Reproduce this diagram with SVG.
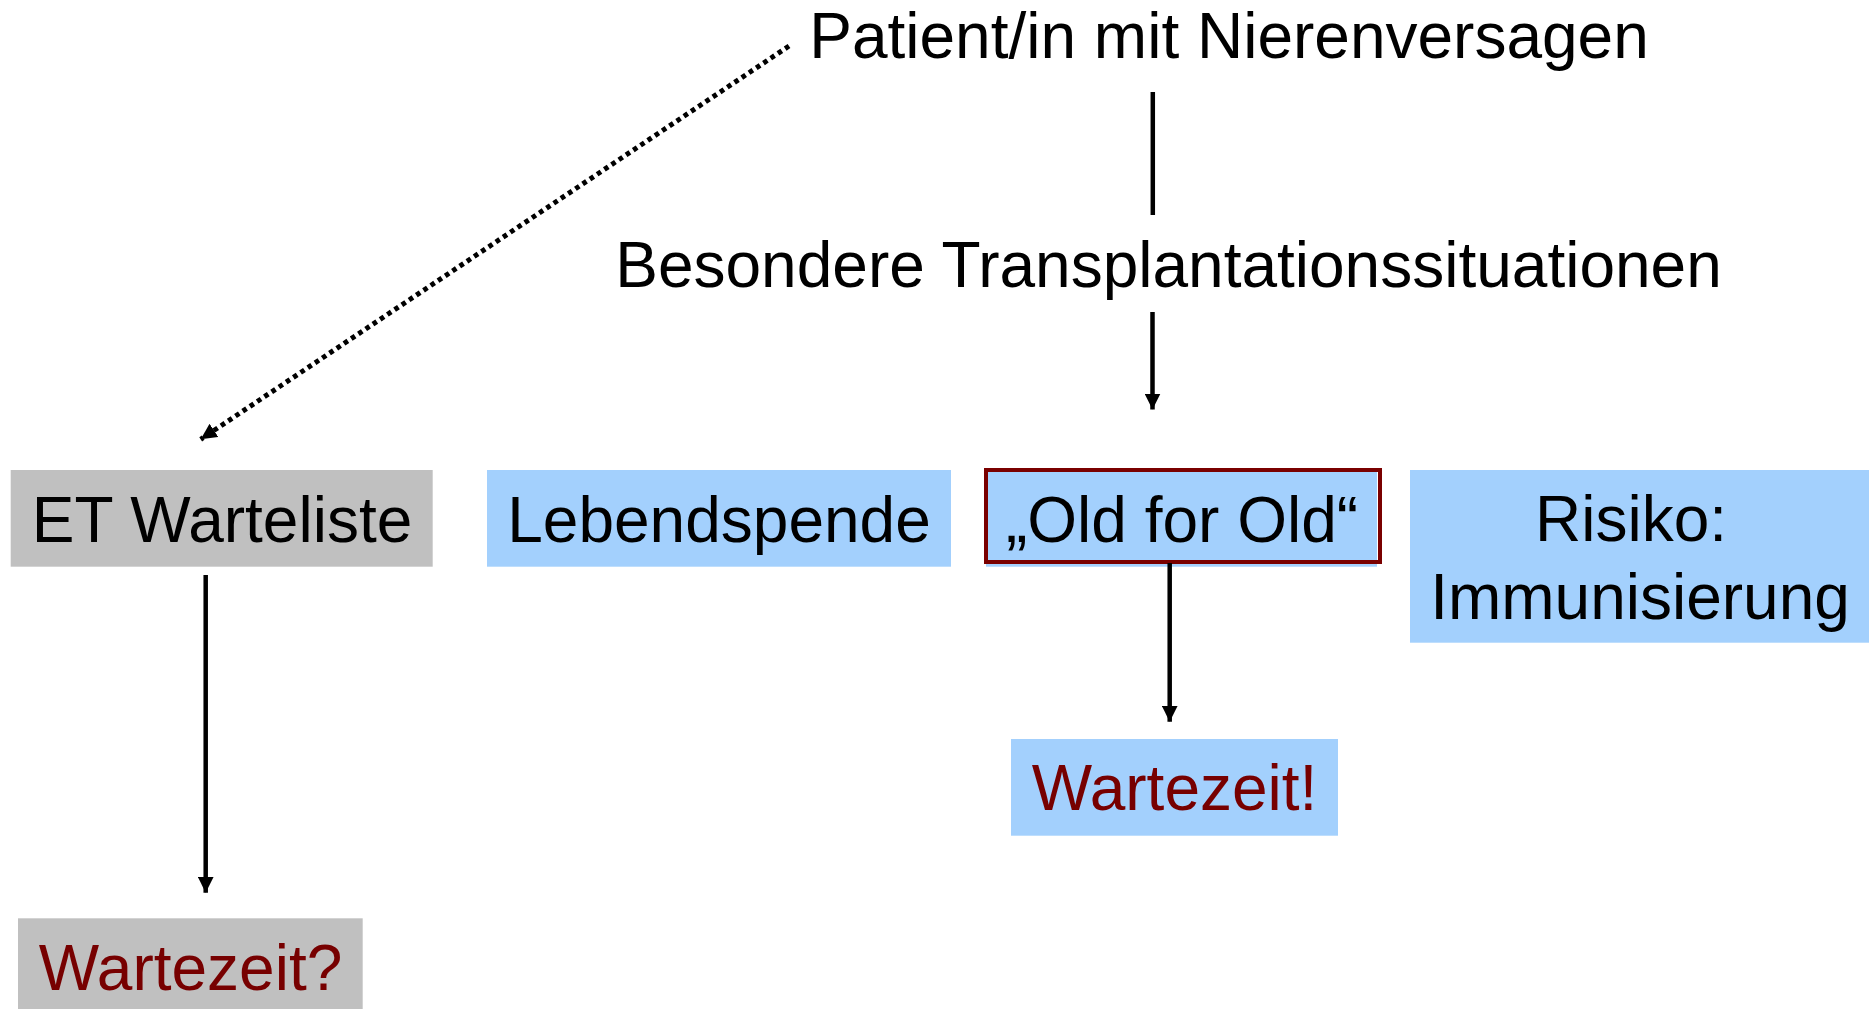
<svg xmlns="http://www.w3.org/2000/svg" width="1869" height="1009" viewBox="0 0 1869 1009">
<style>
  text { font-family: "Liberation Sans", Arial, sans-serif; font-size: 64px; fill: #000; text-anchor: middle; }
  .red { fill: #770000; }
  .gray { fill: #c0c0c0; }
  .blue { fill: #a3d0fd; }
  .conn { stroke: #000; stroke-width: 4.5; fill: none; }
  .dot { stroke-dasharray: 4.6 4.1; stroke-width: 5; }
</style>
<defs>
  <marker id="ah" markerUnits="userSpaceOnUse" markerWidth="16" markerHeight="16" refX="16" refY="8" orient="auto" viewBox="0 0 16 16">
    <path d="M0,0 L16,8 L0,16 z" fill="#000"/>
  </marker>
</defs>
<rect width="1869" height="1009" fill="#fff"/>

<g id="patient">
  <text x="1229" y="58">Patient/in mit Nierenversagen</text>
</g>
<g id="besondere">
  <text x="1168.5" y="287">Besondere Transplantationssituationen</text>
</g>
<g id="et-warteliste">
  <rect class="gray" x="10.7" y="470" width="422" height="96.7"/>
  <text x="222" y="541.5">ET Warteliste</text>
</g>
<g id="lebendspende">
  <rect class="blue" x="487" y="470" width="464" height="96.7"/>
  <text x="719" y="541.7">Lebendspende</text>
</g>
<g id="old-for-old">
  <rect class="blue" x="986" y="470" width="391" height="96.7"/>
  <rect x="986" y="470" width="394" height="92" fill="none" stroke="#7a0000" stroke-width="4"/>
  <text x="1182" y="542.3">„Old for Old“</text>
</g>
<g id="risiko">
  <rect class="blue" x="1410" y="470" width="459" height="172.7"/>
  <text x="1631" y="541">Risiko:</text>
  <text x="1640" y="619">Immunisierung</text>
</g>
<g id="wartezeit-ausruf">
  <rect class="blue" x="1011" y="739" width="327" height="96.7"/>
  <text class="red" x="1174.5" y="810">Wartezeit!</text>
</g>
<g id="wartezeit-frage">
  <rect class="gray" x="18" y="918.3" width="344.7" height="90.7"/>
  <text class="red" x="190.5" y="990">Wartezeit?</text>
</g>

<g id="connectors">
  <line class="conn" x1="1152.8" y1="92" x2="1152.8" y2="215"/>
  <line class="conn" x1="1152.5" y1="312" x2="1152.5" y2="409.5" marker-end="url(#ah)"/>
  <line class="conn dot" x1="789" y1="46" x2="200.7" y2="439.3" marker-end="url(#ah)"/>
  <line class="conn" x1="205.7" y1="575" x2="205.7" y2="892.7" marker-end="url(#ah)"/>
  <line class="conn" x1="1169.7" y1="563" x2="1169.7" y2="721.7" marker-end="url(#ah)"/>
</g>
</svg>
